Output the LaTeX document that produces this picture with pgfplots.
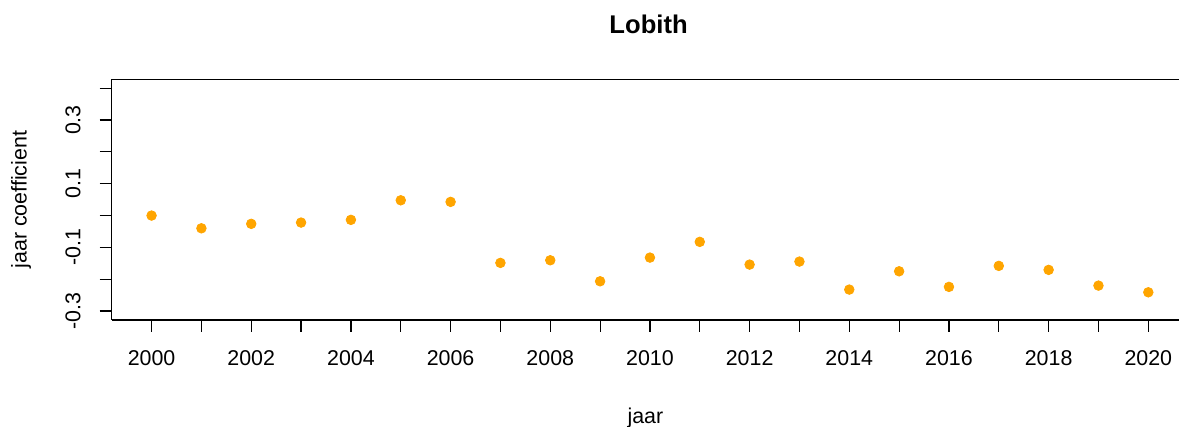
\documentclass[border=0pt]{standalone}
\usepackage{fontspec}
\setmainfont{Liberation Sans}
\usepackage{pgfplots}
\pgfplotsset{compat=1.18}
\definecolor{rorange}{RGB}{255,165,0}
\begin{document}
\begin{tikzpicture}
\begin{axis}[
  name=ax,
  scale only axis,
  width=533.65pt, height=120.35pt,
  xmin=1999.2, xmax=2020.616,
  ymin=-0.328, ymax=0.428,
  axis x line*=box, axis y line*=left,
  axis line style={line width=0.6pt, black},
  every tick/.style={line width=0.6pt, black},
  tick align=outside,
  major tick length=6pt,
  xtick={2000,2001,...,2020},
  xticklabels={2000,,2002,,2004,,2006,,2008,,2010,,2012,,2014,,2016,,2018,,2020},
  xtick pos=bottom,
  ytick={-0.3,-0.2,-0.1,0,0.1,0.2,0.3,0.4},
  yticklabels={-0.3,,-0.1,,0.1,,0.3,},
  ytick pos=left,
  font=\fontsize{10.7}{12}\selectfont,
  ticklabel style={font=\fontsize{10.7}{12}\selectfont},
  xticklabel shift=5.5pt,
  yticklabel style={rotate=90, anchor=south},
  yticklabel shift=6pt,
  xlabel={jaar},
  ylabel={jaar coefficient},
  xlabel style={at={(axis description cs:0.5,-0.428)}, anchor=base, font=\fontsize{10.7}{12}\selectfont},
  ylabel style={at={(axis description cs:-0.0796,0.5)}, anchor=base, rotate=0, font=\fontsize{10.7}{12}\selectfont},
  title={Lobith},
  title style={at={(axis description cs:0.503,1.142)}, anchor=base, font=\bfseries\fontsize{12.8}{14}\selectfont},
  clip=false,
]
\addplot[only marks, mark=*, mark size=2.4pt, color=rorange, mark options={fill=rorange, draw=rorange}] coordinates {
(2000,0.000) (2001,-0.040) (2002,-0.026) (2003,-0.022) (2004,-0.0135)
(2005,0.048) (2006,0.043) (2007,-0.1486) (2008,-0.1404) (2009,-0.2064)
(2010,-0.132) (2011,-0.0826) (2012,-0.154) (2013,-0.1445) (2014,-0.2325)
(2015,-0.175) (2016,-0.224) (2017,-0.158) (2018,-0.1706) (2019,-0.220)
(2020,-0.241)
};
\end{axis}
\pgfresetboundingbox
\path[use as bounding box] (ax.south west) ++(-55.85pt,-53.5pt) rectangle ++(589.5pt,213.5pt);
\end{tikzpicture}
\end{document}
